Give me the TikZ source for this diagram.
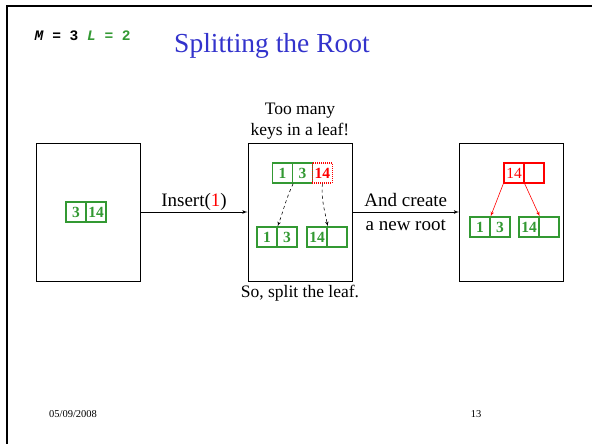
\documentclass[tikz,border=0pt]{standalone}
\usepackage{fontspec}
\setmainfont{Liberation Serif}
\setmonofont{Liberation Mono}
\usetikzlibrary{chains,positioning,arrows}
\definecolor{keygreen}{RGB}{51,153,51}
\definecolor{titleblue}{RGB}{51,51,204}
\tikzset{%
  box/.style     = {draw, line width=1pt, minimum width=104pt,
    minimum height=138pt},
  key/.style     = {draw=keygreen, line width=1.3pt, minimum size=20pt,
    inner sep=0pt, text=keygreen, font=\fontsize{15.5}{15}\selectfont\bfseries},
  newkey/.style  = {key, draw=red, dash pattern=on 1pt off 1pt, line width=1.2pt, text=red},
  rootkey/.style = {key, draw=red, text=red, font=\fontsize{15.5}{15}\selectfont},
  lbl/.style     = {font=\fontsize{19}{24}\selectfont, align=center},
  note/.style    = {font=\fontsize{17.5}{21}\selectfont, align=center}
}
\tikzstyle{arrow} = [draw, line width=0.8pt, -latex']

\begin{document}
\begin{tikzpicture}[x=1pt, y=-1pt,
                    start chain=old going right,
                    start chain=full going right,
                    start chain=low going right,
                    start chain=high going right,
                    start chain=root going right,
                    start chain=left going right,
                    start chain=right going right,
                    node distance=-1.3pt]

\useasboundingbox (0,0) rectangle (592,444);
\draw [line width=2pt] (7,444) -- (7,6) -- (592,6);

\node [anchor=base west, font=\ttfamily\bfseries\fontsize{14.5}{15}\selectfont] (ml)
  at (31,41) {\textit{M} = 3 \textcolor{keygreen}{\textit{L} = 2}};
\node [anchor=base, text=titleblue, font=\fontsize{27.5}{30}\selectfont] (title)
  at (272,53) {Splitting the Root};

\draw
  node [box] (b1) at (88,212) {}
  node [box] (b2) at (300,212) {}
  node [box] (b3) at (511.5,212) {}
;

  \node [on chain=old, key, at={(76,212)}] (o3) {3};
  \node [on chain=old, key] (o14) {14};

  \node [on chain=full, key, at={(282.5,173)}] (f1) {1};
  \node [on chain=full, key] (f3) {3};
  \node [on chain=full, newkey] (f14) {14};

  \node [on chain=low, key, at={(267,237)}] (l1) {1};
  \node [on chain=low, key] (l3) {3};

  \node [on chain=high, key, at={(317,237)}] (h14) {14};
  \node [on chain=high, key] (he) {};

  \node [on chain=root, rootkey, at={(514,173)}] (t14) {14};
  \node [on chain=root, rootkey] (te) {};

  \node [on chain=left, key, at={(480,227)}] (c1) {1};
  \node [on chain=left, key] (c3) {3};

  \node [on chain=right, key, at={(529,227)}] (d14) {14};
  \node [on chain=right, key] (de) {};

  \draw [arrow] (b1.east) -- (b2.west)
    node [midway, above, inner sep=1pt, lbl] (ins) {Insert(\textcolor{red}{1})};
  \draw [arrow] (b2.east) -- (b3.west)
    node [midway, lbl] (and) {And create\\a new root};

  \draw [dashed, line width=0.6pt, -latex'] (f1.south east) to [out=-115, in=70] (l1.north east);
  \draw [dashed, line width=0.6pt, -latex'] (f14.south) to [out=-95, in=100] (h14.north east);

  \draw [red, line width=0.6pt, -latex'] (t14.south west) -- (c1.north east);
  \draw [red, line width=0.6pt, -latex'] (t14.south east) -- (d14.north east);

  \node [note, above=0pt of b2] (many) {Too many\\keys in a leaf!};
  \node [note, below=0pt of b2] (split) {So, split the leaf.};

  \node [anchor=base, font=\fontsize{10.5}{12}\selectfont] (date) at (73,417) {05/09/2008};
  \node [anchor=base, font=\fontsize{10.5}{12}\selectfont] (page) at (476,417) {13};

\end{tikzpicture}
\end{document}
